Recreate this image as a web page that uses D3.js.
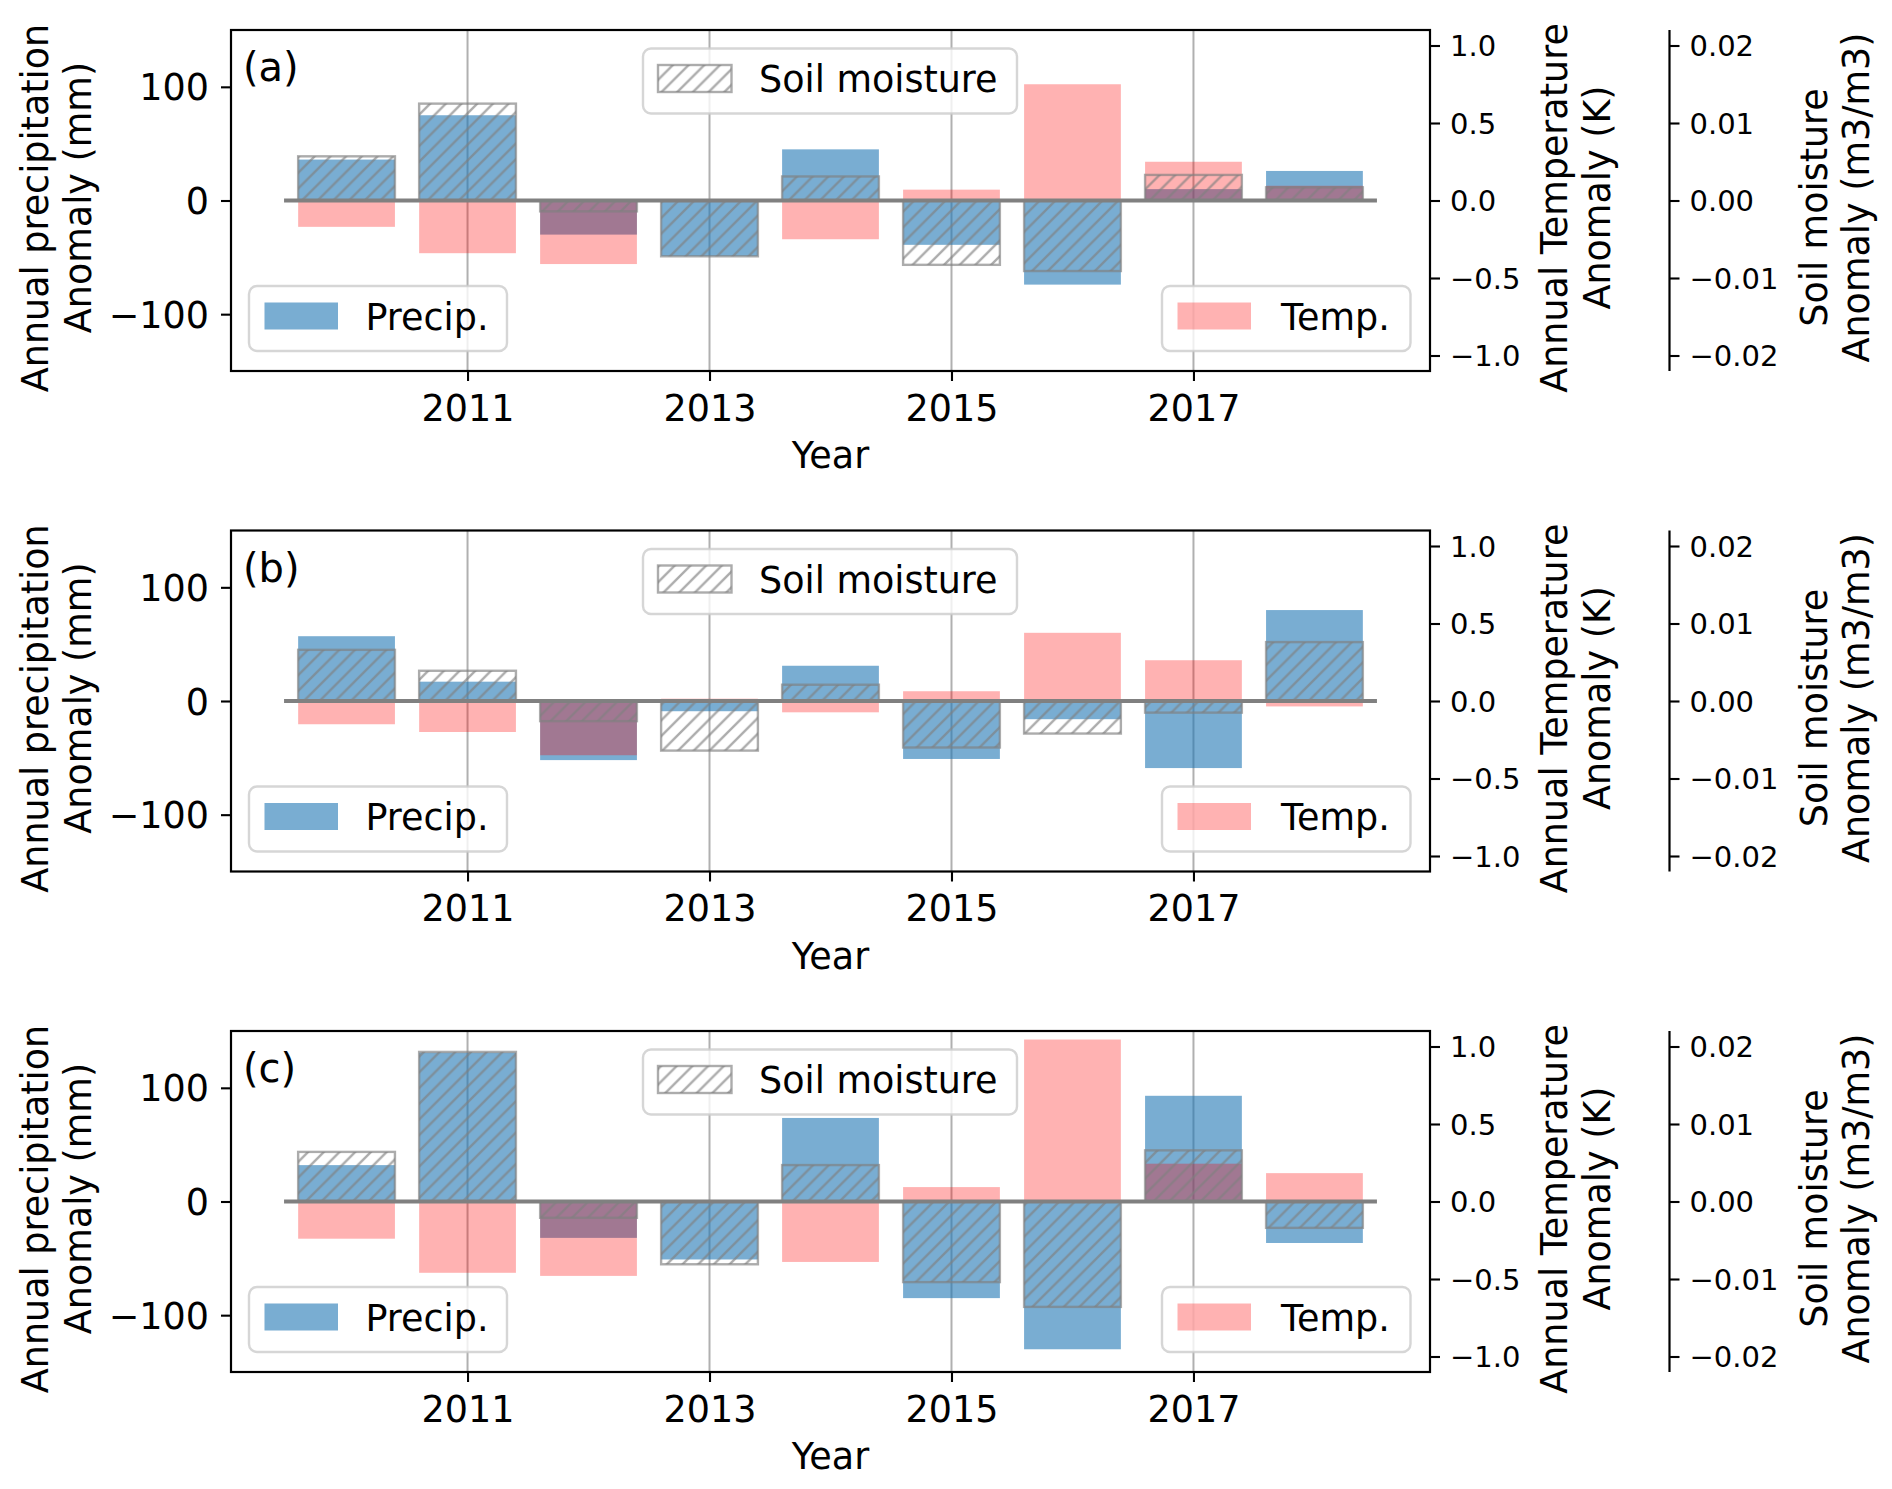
<!DOCTYPE html>
<html><head><meta charset="utf-8">
<script src="https://cdn.jsdelivr.net/npm/d3@7"></script>
<style>
body{margin:0;background:#fff}
svg{display:block}
text{font-family:"DejaVu Sans";}
</style>
</head><body>
<svg id="chart" width="1892" height="1489"></svg>
<script>
// ---------- data ----------
const years = [2010, 2011, 2012, 2013, 2014, 2015, 2016, 2017, 2018];
const xTickYears = [2011, 2013, 2015, 2017];
const precipTicks = [-100, 0, 100];
const tempTicks = [-1.0, -0.5, 0.0, 0.5, 1.0];
const soilTicks = [-0.02, -0.01, 0.0, 0.01, 0.02];
const panelLabels = ["(a)", "(b)", "(c)"];

const precipA = [36, 75, -30, -49, 45, -39, -74, 10, 26];
const tempA   = [-0.17, -0.34, -0.41, -0.01, -0.25, 0.07, 0.75, 0.25, 0.095];
const soilA   = [0.0057, 0.0125, -0.0014, -0.0072, 0.0031, -0.0083, -0.0091, 0.0033, 0.0017];

const precipB = [57, 17, -52, -9, 31, -51, -16, -59, 80];
const tempB   = [-0.15, -0.20, -0.35, 0.015, -0.073, 0.063, 0.44, 0.263, -0.035];
const soilB   = [0.0066, 0.0039, -0.0026, -0.0064, 0.0021, -0.0060, -0.0042, -0.0015, 0.0076];

const precipC = [32, 131, -32, -51, 73.5, -85, -130, 93, -36.5];
const tempC   = [-0.24, -0.46, -0.48, -0.005, -0.39, 0.093, 1.045, 0.244, 0.183];
const soilC   = [0.0064, 0.0193, -0.0021, -0.0081, 0.0047, -0.0104, -0.0136, 0.0066, -0.0034];

const panels = [
  {label: panelLabels[0], precip: precipA, temp: tempA, soil: soilA},
  {label: panelLabels[1], precip: precipB, temp: tempB, soil: soilB},
  {label: panelLabels[2], precip: precipC, temp: tempC, soil: soilC}
];

// ---------- layout ----------
const axL = 231, axR = 1430, axH = 341, soilX = 1669.5;
const FS = 36.5, FSR = 29;
const panelTop = i => 30 + i * 500.5;
const svg = d3.select("#chart");
const x = d3.scaleLinear().domain([2009.045, 2018.955]).range([axL, axR]);
const halfW = 0.4;

const defs = svg.append("defs");
const hs = 15.7;
const pat = defs.append("pattern").attr("id", "hatch")
  .attr("patternUnits", "userSpaceOnUse").attr("width", hs).attr("height", hs);
pat.append("path")
  .attr("d", `M-4,4L4,-4M0,${hs}L${hs},0M${hs-4},${hs+4}L${hs+4},${hs-4}`)
  .attr("stroke", "#808080").attr("stroke-opacity", 0.65)
  .attr("stroke-width", 2.4).attr("fill", "none");

function styleAxis(ga, fs, dy) {
  ga.select(".domain").remove();
  ga.attr("font-family", "DejaVu Sans").attr("font-size", fs);
  ga.selectAll(".tick line").attr("stroke", "#000").attr("stroke-width", 2.1);
  ga.selectAll(".tick text").attr("fill", "#000");
  if (dy !== undefined) ga.selectAll(".tick text").attr("dy", dy);
}

function rotLabel(g, lines, bx, cy) {
  lines.forEach((ln, k) => {
    g.append("text")
      .attr("transform", `translate(${bx[k]},${cy[k]}) rotate(-90)`)
      .attr("text-anchor", "middle")
      .attr("font-size", FS)
      .text(ln);
  });
}

panels.forEach((pd, i) => {
  const T = panelTop(i);
  const g = svg.append("g");
  const yP = d3.scaleLinear().domain([-150, 150]).range([T + axH, T]);
  const yT = d3.scaleLinear().domain([-1.1, 1.1]).range([T + axH, T]);
  const yS = d3.scaleLinear().domain([-0.022, 0.022]).range([T + axH, T]);

  // grid
  g.append("g").selectAll("line").data(xTickYears).join("line")
    .attr("x1", d => x(d)).attr("x2", d => x(d))
    .attr("y1", T).attr("y2", T + axH)
    .attr("stroke", "#b0b0b0").attr("stroke-width", 2);

  // precip bars
  g.append("g").selectAll("rect").data(years).join("rect")
    .attr("x", d => x(d - halfW)).attr("width", d => x(d + halfW) - x(d - halfW))
    .attr("y", (d, j) => Math.min(yP(pd.precip[j]), yP(0)))
    .attr("height", (d, j) => Math.abs(yP(pd.precip[j]) - yP(0)))
    .attr("fill", "#1f77b4").attr("fill-opacity", 0.6);

  // temp bars
  g.append("g").selectAll("rect").data(years).join("rect")
    .attr("x", d => x(d - halfW)).attr("width", d => x(d + halfW) - x(d - halfW))
    .attr("y", (d, j) => Math.min(yT(pd.temp[j]), yT(0)))
    .attr("height", (d, j) => Math.abs(yT(pd.temp[j]) - yT(0)))
    .attr("fill", "#ff0000").attr("fill-opacity", 0.3);

  // soil bars (hatched)
  g.append("g").selectAll("rect").data(years).join("rect")
    .attr("x", d => x(d - halfW)).attr("width", d => x(d + halfW) - x(d - halfW))
    .attr("y", (d, j) => Math.min(yS(pd.soil[j]), yS(0)))
    .attr("height", (d, j) => Math.abs(yS(pd.soil[j]) - yS(0)))
    .attr("fill", "url(#hatch)")
    .attr("stroke", "#808080").attr("stroke-opacity", 0.65).attr("stroke-width", 2.4);

  // zero line
  g.append("line")
    .attr("x1", x(2009.5)).attr("x2", x(2018.5))
    .attr("y1", yP(0)).attr("y2", yP(0))
    .attr("stroke", "#808080").attr("stroke-width", 4).attr("stroke-linecap", "square");

  // spines
  g.append("rect").attr("x", axL).attr("y", T).attr("width", axR - axL).attr("height", axH)
    .attr("fill", "none").attr("stroke", "#000").attr("stroke-width", 2.2);
  g.append("line").attr("x1", soilX).attr("x2", soilX).attr("y1", T).attr("y2", T + axH)
    .attr("stroke", "#000").attr("stroke-width", 2.2);

  // axes
  const gl = g.append("g").attr("transform", `translate(${axL},0)`)
    .call(d3.axisLeft(yP).tickValues(precipTicks).tickSize(10).tickSizeOuter(0).tickPadding(12).tickFormat(d3.format("d")));
  styleAxis(gl, FS, "0.36em");

  const gb = g.append("g").attr("transform", `translate(0,${T + axH})`)
    .call(d3.axisBottom(x).tickValues(xTickYears).tickSize(10).tickSizeOuter(0).tickPadding(14).tickFormat(d3.format("d")));
  styleAxis(gb, FS);

  const gr = g.append("g").attr("transform", `translate(${axR},0)`)
    .call(d3.axisRight(yT).tickValues(tempTicks).tickSize(10).tickSizeOuter(0).tickPadding(10).tickFormat(d3.format(".1f")));
  styleAxis(gr, FSR, "0.36em");

  const gs = g.append("g").attr("transform", `translate(${soilX},0)`)
    .call(d3.axisRight(yS).tickValues(soilTicks).tickSize(10).tickSizeOuter(0).tickPadding(10).tickFormat(d3.format(".2f")));
  styleAxis(gs, FSR, "0.36em");

  // axis labels
  g.append("text").attr("x", (axL + axR) / 2).attr("y", T + 438)
    .attr("text-anchor", "middle").attr("font-size", FS).text("Year");
  rotLabel(g, ["Annual precipitation", "Anomaly (mm)"], [48, 90.5], [T + 178, T + 167.5]);
  rotLabel(g, ["Annual Temperature", "Anomaly (K)"], [1567, 1609.5], [T + 178, T + 167.5]);
  rotLabel(g, ["Soil moisture", "Anomaly (m3/m3)"], [1827, 1869], [T + 177.5, T + 167.5]);

  // panel label
  g.append("text").attr("x", 243).attr("y", T + 51).attr("font-size", 40).text(pd.label);

  // legends
  const legend = (fx, fw, fy, hx, tx, txt, kind) => {
    const lg = g.append("g");
    lg.append("rect").attr("x", fx).attr("y", T + fy).attr("width", fw).attr("height", 65)
      .attr("rx", 8).attr("ry", 8)
      .attr("fill", "#fff").attr("fill-opacity", 0.8)
      .attr("stroke", "#cccccc").attr("stroke-opacity", 0.8).attr("stroke-width", 2.4);
    const hy = T + fy + 16.5;
    const h = lg.append("rect").attr("x", hx).attr("y", hy).attr("width", 73.5).attr("height", 27);
    if (kind === "p") h.attr("fill", "#1f77b4").attr("fill-opacity", 0.6);
    else if (kind === "t") h.attr("fill", "#ff0000").attr("fill-opacity", 0.3);
    else {
      lg.insert("rect", "rect:last-child").attr("x", hx).attr("y", hy).attr("width", 73.5).attr("height", 27).attr("fill", "#fff");
      h.attr("fill", "url(#hatch)").attr("stroke", "#808080").attr("stroke-opacity", 0.65).attr("stroke-width", 2.4);
    }
    lg.append("text").attr("x", tx).attr("y", hy + 27).attr("font-size", FS).text(txt);
  };
  legend(643, 374, 18.5, 658, 759, "Soil moisture", "s");
  legend(249, 258, 256, 264.5, 365.5, "Precip.", "p");
  legend(1162, 248.5, 256, 1177.5, 1281, "Temp.", "t");
});
</script>
</body></html>
